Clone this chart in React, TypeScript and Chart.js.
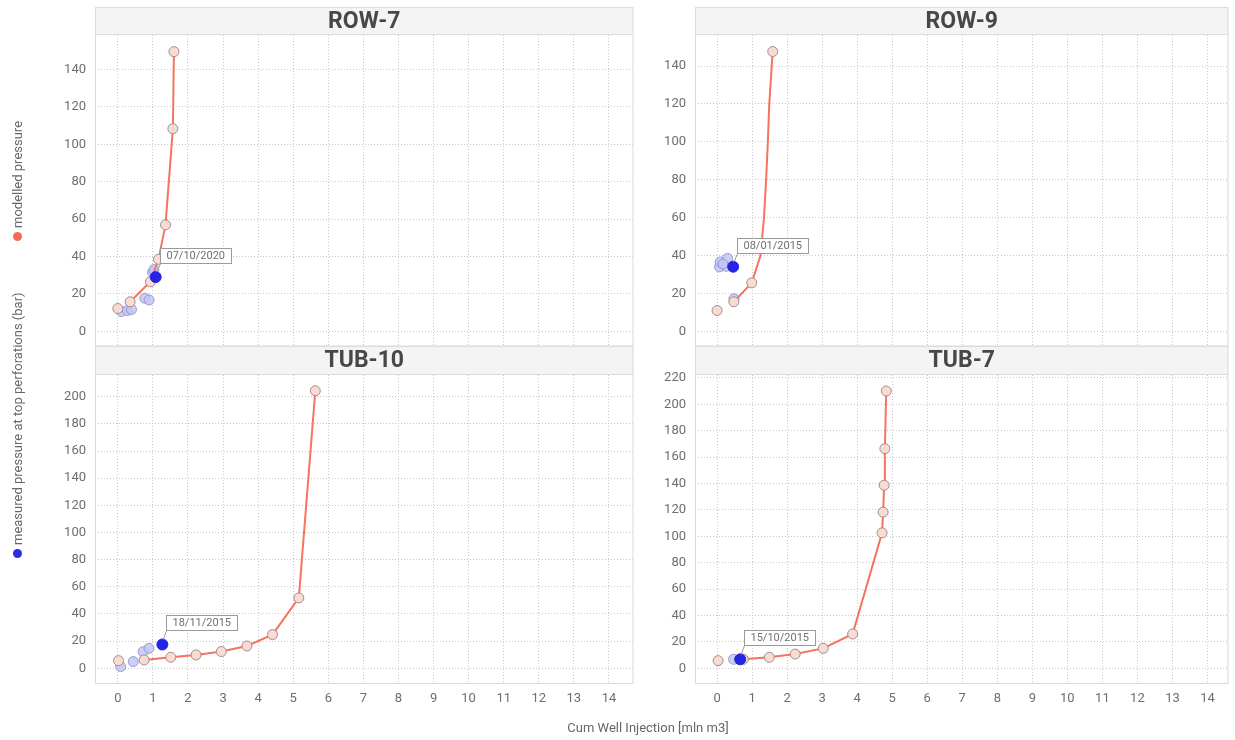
import React, { useEffect, useRef } from "react";
import { Chart, registerables } from "chart.js";

Chart.register(...registerables);

// ---------- shared ticks ----------
const xTickValues = [0, 1, 2, 3, 4, 5, 6, 7, 8, 9, 10, 11, 12, 13, 14];
const yTicksTop = [0, 20, 40, 60, 80, 100, 120, 140];
const yTicksTub10 = [0, 20, 40, 60, 80, 100, 120, 140, 160, 180, 200];
const yTicksTub7 = [0, 20, 40, 60, 80, 100, 120, 140, 160, 180, 200, 220];

const xAxisTitle = "Cum Well Injection [mln m3]";
const legendModelled = "modelled pressure";
const legendMeasured = "measured pressure at top perforations (bar)";

// ---------- ROW-7 ----------
const row7MarkerX = [0, 0.35, 0.93, 1.16, 1.36, 1.57, 1.6];
const row7MarkerY = [12.2, 15.8, 26.5, 38.5, 56.9, 108.3, 149.5];
const row7LineX = [0.35, 0.93, 1.16, 1.36, 1.57, 1.6];
const row7LineY = [15.8, 26.5, 38.5, 56.9, 108.3, 149.5];
const row7MeasuredX = [0.1, 0.27, 0.39, 0.77, 0.89, 0.99, 1.03];
const row7MeasuredY = [10.6, 11.1, 11.7, 17.7, 16.8, 31.5, 33.0];
const row7HighlightX = [1.08];
const row7HighlightY = [29.0];
const row7Date = "07/10/2020";

// ---------- ROW-9 ----------
const row9MarkerX = [0, 0.48, 0.99, 1.59];
const row9MarkerY = [11.0, 15.6, 25.6, 147.7];
const row9LineX = [0.48, 0.99, 1.24, 1.34, 1.4, 1.45, 1.49, 1.56, 1.59];
const row9LineY = [15.6, 25.6, 40, 60, 80, 100, 120, 140, 147.7];
const row9MeasuredX = [0.07, 0.09, 0.26, 0.3, 0.17, 0.48];
const row9MeasuredY = [34.0, 36.6, 34.3, 38.5, 35.5, 17.2];
const row9HighlightX = [0.46];
const row9HighlightY = [34.1];
const row9Date = "08/01/2015";

// ---------- TUB-10 ----------
const tub10MarkerX = [0.02, 0.75, 1.51, 2.23, 2.95, 3.68, 4.41, 5.16, 5.63];
const tub10MarkerY = [5.6, 6.1, 8.1, 9.8, 12.3, 16.4, 24.8, 51.8, 204.4];
const tub10LineX = [0.75, 1.51, 2.23, 2.95, 3.68, 4.41, 5.16, 5.63];
const tub10LineY = [6.1, 8.1, 9.8, 12.3, 16.4, 24.8, 51.8, 204.4];
const tub10MeasuredX = [0.08, 0.44, 0.72, 0.89];
const tub10MeasuredY = [1.2, 4.9, 12.2, 14.7];
const tub10HighlightX = [1.27];
const tub10HighlightY = [17.5];
const tub10Date = "18/11/2015";

// ---------- TUB-7 ----------
const tub7MarkerX = [0.03, 0.75, 1.49, 2.23, 3.03, 3.87, 4.71, 4.74, 4.77, 4.79, 4.83];
const tub7MarkerY = [5.8, 6.8, 8.3, 10.8, 15.1, 26.0, 102.6, 118.3, 138.7, 166.4, 210.1];
const tub7LineX = [0.75, 1.49, 2.23, 3.03, 3.87, 4.71, 4.74, 4.77, 4.79, 4.83];
const tub7LineY = [6.8, 8.3, 10.8, 15.1, 26.0, 102.6, 118.3, 138.7, 166.4, 210.1];
const tub7MeasuredX = [0.47];
const tub7MeasuredY = [6.8];
const tub7HighlightX = [0.66];
const tub7HighlightY = [6.8];
const tub7Date = "15/10/2015";

const FONT = "Roboto, 'Noto Sans', 'DejaVu Sans', sans-serif";
const TICK_COLOR = "#6e6e6e";
const GRID_COLOR = "#c8c8c8";
const LINE_COLOR = "#f7735f";
const MODEL_FILL = "#f9dbd3";
const MODEL_BORDER = "#a08e8b";
const MEAS_FILL = "rgba(196,198,243,0.85)";
const MEAS_BORDER = "rgba(140,142,205,0.85)";
const HIGHLIGHT = "#2424e4";

const pts = (xs: number[], ys: number[]) => xs.map((x, i) => ({ x, y: ys[i] }));

const decorPlugin = {
  id: "decor",
  beforeDraw(chart: any, _args: any, opts: any) {
    const { ctx, chartArea: a } = chart;
    const ht = opts.headerTop;
    ctx.save();
    ctx.fillStyle = "#f4f4f4";
    ctx.fillRect(a.left, ht, a.right - a.left, a.top - ht);
    ctx.strokeStyle = "#dcdcdc";
    ctx.lineWidth = 1;
    ctx.strokeRect(a.left + 0.5, ht + 0.5, a.right - a.left - 1, a.top - ht - 1);
    ctx.fillStyle = "#474747";
    ctx.font = `bold 23px ${FONT}`;
    ctx.textAlign = "center";
    ctx.textBaseline = "middle";
    ctx.fillText(opts.title, (a.left + a.right) / 2, (ht + a.top) / 2 + 1);
    ctx.restore();
  },
  beforeDatasetsDraw(chart: any) {
    const { ctx, chartArea: a } = chart;
    ctx.save();
    ctx.strokeStyle = "#d9d9d9";
    ctx.lineWidth = 1;
    ctx.beginPath();
    ctx.moveTo(a.left + 0.5, a.top);
    ctx.lineTo(a.left + 0.5, a.bottom - 0.5);
    ctx.lineTo(a.right - 0.5, a.bottom - 0.5);
    ctx.lineTo(a.right - 0.5, a.top);
    ctx.stroke();
    ctx.restore();
  },
  afterDatasetsDraw(chart: any, _args: any, opts: any) {
    const { ctx } = chart;
    const meta = chart.getDatasetMeta(0);
    const el = meta.data[0];
    if (!el) return;
    const x = el.x;
    const y = el.y;
    ctx.save();
    ctx.font = `11px ${FONT}`;
    const tw = ctx.measureText(opts.label).width;
    const bx = Math.round(x + 4) + 0.5;
    const bBottom = Math.round(y - 14) + 0.5;
    const bh = 15;
    const bw = Math.round(tw + 12);
    ctx.strokeStyle = "#9a9a9a";
    ctx.lineWidth = 1;
    ctx.beginPath();
    ctx.moveTo(x + 1, y - 5);
    ctx.lineTo(bx, bBottom);
    ctx.stroke();
    ctx.fillStyle = "#ffffff";
    ctx.fillRect(bx, bBottom - bh, bw, bh);
    ctx.strokeRect(bx, bBottom - bh, bw, bh);
    ctx.fillStyle = "#707070";
    ctx.textAlign = "left";
    ctx.textBaseline = "middle";
    ctx.fillText(opts.label, bx + 6, bBottom - bh / 2 + 0.5);
    ctx.restore();
  },
};

type PanelSpec = {
  title: string;
  markerX: number[];
  markerY: number[];
  lineX: number[];
  lineY: number[];
  measuredX: number[];
  measuredY: number[];
  highlightX: number[];
  highlightY: number[];
  date: string;
  yTicks: number[];
  yMin: number;
  yMax: number;
  xMin: number;
  xMax: number;
  isTop: boolean;
  yAxisWidth: number;
  width: number;
  height: number;
  left: number;
  top: number;
};

function buildConfig(p: PanelSpec): any {
  return {
    type: "scatter",
    data: {
      datasets: [
        {
          data: pts(p.highlightX, p.highlightY),
          pointRadius: 5.5,
          pointBackgroundColor: HIGHLIGHT,
          pointBorderColor: HIGHLIGHT,
          pointBorderWidth: 1,
          showLine: false,
        },
        {
          data: pts(p.markerX, p.markerY),
          pointRadius: 5,
          pointBackgroundColor: MODEL_FILL,
          pointBorderColor: MODEL_BORDER,
          pointBorderWidth: 1,
          showLine: false,
        },
        {
          data: pts(p.lineX, p.lineY),
          pointRadius: 0,
          showLine: true,
          borderColor: LINE_COLOR,
          borderWidth: 2,
          tension: 0,
          fill: false,
        },
        {
          data: pts(p.measuredX, p.measuredY),
          pointRadius: 5,
          pointBackgroundColor: MEAS_FILL,
          pointBorderColor: MEAS_BORDER,
          pointBorderWidth: 1,
          showLine: false,
        },
      ],
    },
    options: {
      responsive: false,
      maintainAspectRatio: false,
      animation: false,
      devicePixelRatio: 1,
      events: [],
      layout: { padding: { left: 0, right: 5, top: 35, bottom: 0 } },
      plugins: {
        legend: { display: false },
        tooltip: { enabled: false },
        title: { display: false },
        decor: { title: p.title, headerTop: p.isTop ? 7 : 6, label: p.date },
      },
      scales: {
        x: {
          type: "linear",
          min: p.xMin,
          max: p.xMax,
          afterBuildTicks: (s: any) => {
            s.ticks = xTickValues.map((v) => ({ value: v }));
          },
          afterFit: (s: any) => {
            s.height = p.isTop ? 0 : 56;
            s.paddingLeft = 0;
            s.paddingRight = 0;
            s.paddingTop = 0;
            s.paddingBottom = 0;
          },
          grid: { color: GRID_COLOR, drawTicks: false, lineWidth: 1 },
          border: { display: false, dash: [1, 2] },
          ticks: {
            display: !p.isTop,
            padding: 7,
            color: TICK_COLOR,
            font: { family: FONT, size: 13 },
            maxRotation: 0,
            autoSkip: false,
          },
        },
        y: {
          type: "linear",
          min: p.yMin,
          max: p.yMax,
          afterBuildTicks: (s: any) => {
            s.ticks = p.yTicks.map((v) => ({ value: v }));
          },
          afterFit: (s: any) => {
            s.width = p.yAxisWidth;
            s.paddingTop = 0;
            s.paddingBottom = 0;
            s.paddingLeft = 0;
            s.paddingRight = 0;
          },
          grid: { color: GRID_COLOR, drawTicks: false, lineWidth: 1 },
          border: { display: false, dash: [1, 2] },
          ticks: {
            padding: 9,
            color: TICK_COLOR,
            font: { family: FONT, size: 13 },
            autoSkip: false,
          },
        },
      },
    },
    plugins: [decorPlugin],
  };
}

const panels: PanelSpec[] = [
  {
    title: "ROW-7",
    markerX: row7MarkerX, markerY: row7MarkerY,
    lineX: row7LineX, lineY: row7LineY,
    measuredX: row7MeasuredX, measuredY: row7MeasuredY,
    highlightX: row7HighlightX, highlightY: row7HighlightY,
    date: row7Date,
    yTicks: yTicksTop, yMin: -8.1, yMax: 158.4,
    xMin: -0.65, xMax: 14.7,
    isTop: true, yAxisWidth: 95, width: 640, height: 353, left: 0, top: 0,
  },
  {
    title: "ROW-9",
    markerX: row9MarkerX, markerY: row9MarkerY,
    lineX: row9LineX, lineY: row9LineY,
    measuredX: row9MeasuredX, measuredY: row9MeasuredY,
    highlightX: row9HighlightX, highlightY: row9HighlightY,
    date: row9Date,
    yTicks: yTicksTop, yMin: -8.0, yMax: 156.4,
    xMin: -0.63, xMax: 14.6,
    isTop: true, yAxisWidth: 55, width: 595, height: 353, left: 640, top: 0,
  },
  {
    title: "TUB-10",
    markerX: tub10MarkerX, markerY: tub10MarkerY,
    lineX: tub10LineX, lineY: tub10LineY,
    measuredX: tub10MeasuredX, measuredY: tub10MeasuredY,
    highlightX: tub10HighlightX, highlightY: tub10HighlightY,
    date: tub10Date,
    yTicks: yTicksTub10, yMin: -11.6, yMax: 216,
    xMin: -0.65, xMax: 14.7,
    isTop: false, yAxisWidth: 95, width: 640, height: 400, left: 0, top: 340,
  },
  {
    title: "TUB-7",
    markerX: tub7MarkerX, markerY: tub7MarkerY,
    lineX: tub7LineX, lineY: tub7LineY,
    measuredX: tub7MeasuredX, measuredY: tub7MeasuredY,
    highlightX: tub7HighlightX, highlightY: tub7HighlightY,
    date: tub7Date,
    yTicks: yTicksTub7, yMin: -11.9, yMax: 222.2,
    xMin: -0.63, xMax: 14.6,
    isTop: false, yAxisWidth: 55, width: 595, height: 400, left: 640, top: 340,
  },
];

function LegendEntry({ text, color, bottom }: { text: string; color: string; bottom: number }) {
  return (
    <div
      style={{
        position: "absolute",
        left: 10,
        top: bottom,
        transform: "rotate(-90deg)",
        transformOrigin: "0 0",
        whiteSpace: "nowrap",
        display: "flex",
        alignItems: "center",
        height: 15,
        fontFamily: FONT,
        fontSize: 13,
        color: "#666",
        lineHeight: "15px",
      }}
    >
      <span
        style={{
          display: "inline-block",
          width: 9,
          height: 9,
          borderRadius: "50%",
          background: color,
          marginRight: 4,
        }}
      />
      <span>{text}</span>
    </div>
  );
}

export default function App() {
  const refs = [
    useRef<HTMLCanvasElement>(null),
    useRef<HTMLCanvasElement>(null),
    useRef<HTMLCanvasElement>(null),
    useRef<HTMLCanvasElement>(null),
  ];

  useEffect(() => {
    const charts: Chart[] = [];
    panels.forEach((p, i) => {
      const c = refs[i].current;
      if (!c) return;
      charts.push(new Chart(c, buildConfig(p)));
    });
    return () => charts.forEach((ch) => ch.destroy());
  }, []);

  return (
    <div
      style={{
        position: "absolute",
        left: 0,
        top: 0,
        width: 1235,
        height: 740,
        overflow: "hidden",
        background: "#ffffff",
      }}
    >
      {panels.map((p, i) => (
        <canvas
          key={p.title}
          ref={refs[i]}
          width={p.width}
          height={p.height}
          style={{ position: "absolute", left: p.left, top: p.top, width: p.width, height: p.height }}
        />
      ))}
      <LegendEntry text={legendModelled} color="#f26b5b" bottom={241} />
      <LegendEntry text={legendMeasured} color="#2b2be8" bottom={558} />
      <div
        style={{
          position: "absolute",
          left: 448,
          top: 720,
          width: 400,
          textAlign: "center",
          fontFamily: FONT,
          fontSize: 13,
          color: "#666",
          lineHeight: "15px",
        }}
      >
        {xAxisTitle}
      </div>
    </div>
  );
}
